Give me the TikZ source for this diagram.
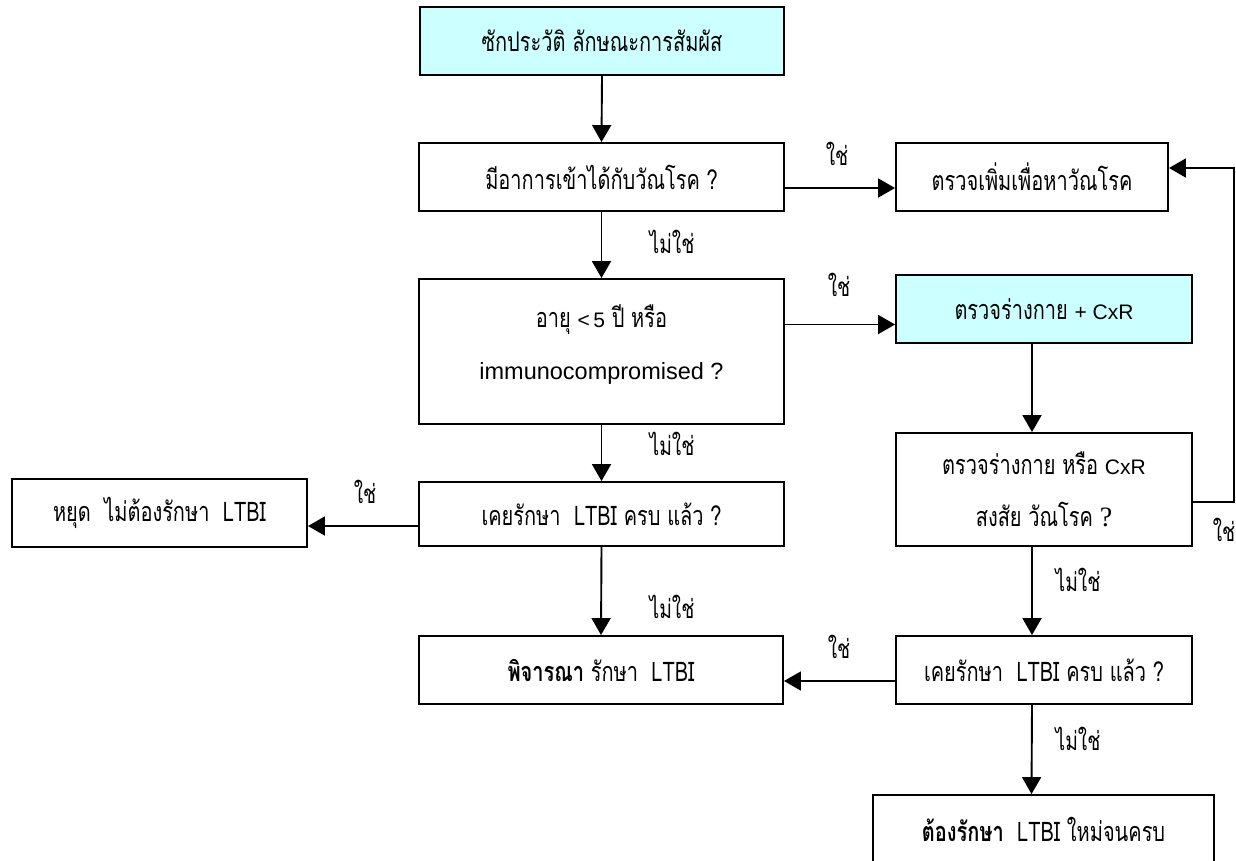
\documentclass[tikz,border=0pt]{standalone}
\usepackage{fontspec}
\usetikzlibrary{arrows.meta}
\newfontfamily\thai[Script=Thai,FakeStretch=0.74]{Loma}
\newfontfamily\latin{Liberation Sans}
\newfontfamily\qserif{Liberation Serif}
\newcommand\thaitext{\thai\fontsize{27}{52}\selectfont}
\newcommand\thailabel{\thai\fontsize{26}{40}\selectfont}
\definecolor{paleCyan}{RGB}{204,255,255}
\begin{document}
\begin{tikzpicture}[x=1pt,y=-1pt,
  box/.style={draw=black, line width=1.9pt, fill=white, inner sep=0pt,
    align=center, font=\thaitext},
  hilite/.style={box, fill=paleCyan},
  arr/.style={line width=1.9pt, -{Triangle[length=17pt,width=19pt]}},
  lbl/.style={inner sep=0pt, font=\thailabel}]
\useasboundingbox (0,0) rectangle (1236,860);

% left column
\node[hilite, minimum width=364pt, minimum height=68pt] (hist) at (602,41) {ซักประวัติ ลักษณะการสัมผัส};
\node[box, minimum width=365pt, minimum height=68pt] (symp) at (601.5,177) {มีอาการเข้าได้กับวัณโรค ?};
\node[box, minimum width=365pt, minimum height=145pt] (risk) at (601.5,351.5) {};
\node[inner sep=0pt, align=center, font=\thaitext] (risktxt) at ([yshift=7pt]risk.center)
  {อายุ {\latin\fontsize{21}{52}\selectfont <\,5} ปี หรือ\\{\latin\fontsize{23.5}{52}\selectfont immunocompromised ?}};
\node[box, minimum width=365pt, minimum height=64pt] (donea) at (601.5,514) {เคยรักษา~~LTBI ครบ แล้ว ?};
\node[box, minimum width=295pt, minimum height=68pt] (stop) at (159.5,513) {หยุด~~ไม่ต้องรักษา~~LTBI};
\node[box, minimum width=364pt, minimum height=68pt] (consider) at (601,670) {\textbf{พิจารณา} รักษา~~LTBI};

% right column
\node[box, minimum width=272pt, minimum height=68pt] (more) at (1032,177) {ตรวจเพิ่มเพื่อหาวัณโรค};
\node[hilite, minimum width=296pt, minimum height=68pt] (exam) at (1044,309) {ตรวจร่างกาย {\latin\fontsize{21}{52}\selectfont + CxR}};
\node[box, minimum width=296pt, minimum height=113pt] (susp) at (1044,489.5)
  {ตรวจร่างกาย หรือ {\latin\fontsize{21}{52}\selectfont CxR}\\สงสัย วัณโรค {\qserif\fontsize{28}{52}\selectfont ?}};
\node[box, minimum width=296pt, minimum height=68pt] (doneb) at (1044,670) {เคยรักษา~~LTBI ครบ แล้ว ?};
\node[box, minimum width=341pt, minimum height=68pt] (must) at (1043.5,829) {\textbf{ต้องรักษา}~~LTBI ใหม่จนครบ};

% vertical flow
\draw[arr] (hist.south) -- (symp.north);
\draw[arr] (symp.south) -- (risk.north);
\draw[arr] (risk.south) -- (donea.north);
\draw[arr] (donea.south) -- (consider.north);
\draw[arr] ([xshift=-12pt]exam.south) -- ([xshift=-12pt]susp.north);
\draw[arr] ([xshift=-12pt]susp.south) -- ([xshift=-12pt]doneb.north);
\draw[arr] ([xshift=-12pt]doneb.south) -- ([xshift=-12pt]must.north);

% horizontal flow
\draw[arr] ([yshift=-11pt]symp.east) -- ([yshift=-11pt]symp.east -| more.west);
\draw[arr] ([yshift=27pt]risk.east) -- ([yshift=27pt]risk.east -| exam.west);
\draw[arr] ([yshift=-12pt]donea.west) -- ([yshift=-12pt]donea.west -| stop.east);
\draw[arr] ([yshift=-11pt]doneb.west) -- ([yshift=-11pt]doneb.west -| consider.east);

% loop back from the suspicion check
\coordinate (loop) at (1234,168);
\draw[arr] ([yshift=-12.5pt]susp.east) -| (loop) -- (loop -| more.east);

% branch labels
\node[lbl] (y1) at (837,154) {ใช่};
\node[lbl] (n1) at (672,242) {ไม่ใช่};
\node[lbl] (y2) at (839,285) {ใช่};
\node[lbl] (n2) at (672,444) {ไม่ใช่};
\node[lbl] (y3) at (365,492) {ใช่};
\node[lbl] (n3) at (672,607) {ไม่ใช่};
\node[lbl] (y4) at (839,647) {ใช่};
\node[lbl] (n4) at (1078,580) {ไม่ใช่};
\node[lbl] (n5) at (1078,739) {ไม่ใช่};
\node[lbl] (y5) at (1224,530) {ใช่};
\end{tikzpicture}
\end{document}
